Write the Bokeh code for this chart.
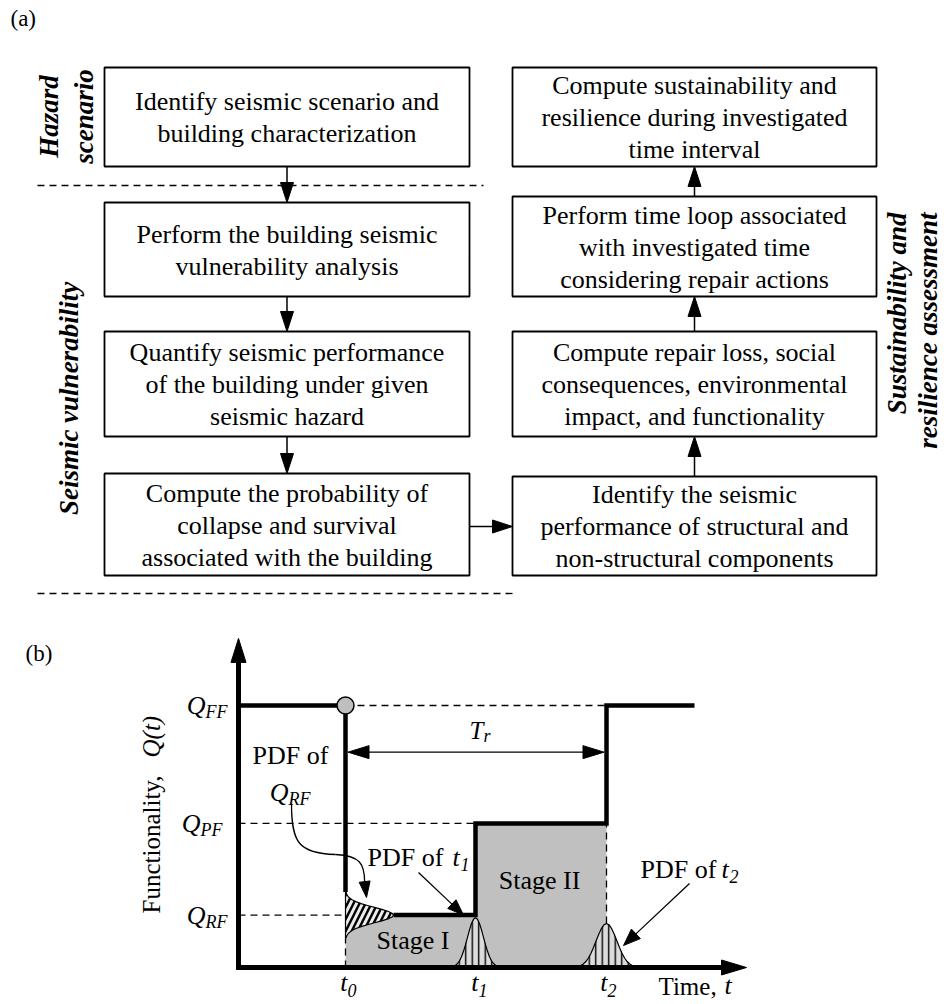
import math
from bokeh.plotting import figure
from bokeh.models import Range1d
from bokeh.layouts import column
from bokeh.embed import file_html
from bokeh.resources import INLINE
from bokeh.core.properties import value

FONT = "Liberation Serif"

# ---------------- (a) flowchart content ----------------
LEFT_STEPS = [
    ["Identify seismic scenario and", "building characterization"],
    ["Perform the building seismic", "vulnerability analysis"],
    ["Quantify seismic performance", "of the building under given", "seismic hazard"],
    ["Compute the probability of", "collapse and survival", "associated with the building"],
]
RIGHT_STEPS = [
    ["Compute sustainability and", "resilience during investigated", "time interval"],
    ["Perform time loop associated", "with investigated time", "considering repair actions"],
    ["Compute repair loss, social", "consequences, environmental", "impact, and functionality"],
    ["Identify the seismic", "performance of structural and", "non-structural components"],
]
LEFT_TOP = [67, 202, 331, 473]
LEFT_BOTTOM = [166, 296, 436, 575]
RIGHT_TOP = [67, 196, 331, 476]
RIGHT_BOTTOM = [166, 296, 436, 575]
LEFT_EDGES = [104, 469]
RIGHT_EDGES = [512, 876]
PHASE_HAZARD = ["Hazard", "scenario"]
PHASE_VULN = "Seismic vulnerability"
PHASE_SUST = ["Sustainability and", "resilience assessment"]
SEPARATOR_Y = [185, 593]
SEPARATOR_X_END = [483, 513]
LINK_Y = 526

# ---------------- (b) functionality curve ----------------
T0, T1, T2, T_END = 2.14, 4.74, 7.36, 9.12
Q_FF, Q_PF, Q_RF = 1.0, 0.55, 0.2
T_AXIS_MAX, Q_AXIS_MAX = 10.16, 1.256
T_R_LEVEL = 0.822
Q_NAMES = ["FF", "PF", "RF"]
Q_VALUES = [Q_FF, Q_PF, Q_RF]
T_NAMES = ["0", "1", "2"]
T_VALUES = [T0, T1, T2]
# relative bell ordinates (centre -> tail, 13 steps)
PDF_HALF = [1.0, 0.969, 0.883, 0.755, 0.607, 0.458, 0.325, 0.216, 0.135, 0.080, 0.044, 0.023, 0.011]
PDF_RF_AMP, PDF_RF_HALFWIDTH = 0.96, 0.088
PDF_T1_AMP, PDF_T1_HALFWIDTH = 0.19, 0.48
PDF_T2_AMP, PDF_T2_HALFWIDTH = 0.168, 0.62

W, H_TOTAL, H_SPLIT = 946, 1004, 618
HA, HB = H_SPLIT, H_TOTAL - H_SPLIT
SX, SY, OX, OY = 50.0, 262.0, 238.0, 967.0


def make_fig(h, xr, yr):
    p = figure(width=W, height=h, x_range=xr, y_range=yr, output_backend="svg",
               toolbar_location=None, min_border=0, x_axis_location=None,
               y_axis_location=None)
    p.grid.grid_line_color = None
    p.outline_line_color = None
    p.background_fill_color = "white"
    p.border_fill_color = "white"
    return p


def txt(p, conv, xs, ys, texts, size, style="normal", align="left", angle=0.0):
    """xs, ys: intended baseline anchor in page pixels."""
    k = 0.3 * size
    if angle == 0:
        ys = [v - k for v in ys]
    else:
        xs = [v - k for v in xs]
    X, Y = conv(xs, ys)
    p.text(x=X, y=Y, text=texts, text_font=value(FONT), text_font_size=f"{size}px",
           text_font_style=style, text_align=align, text_baseline="alphabetic",
           angle=angle, text_color="black")


def tri(tip, frm, L, hw):
    dx, dy = tip[0] - frm[0], tip[1] - frm[1]
    n = math.hypot(dx, dy)
    ux, uy = dx / n, dy / n
    bx, by = tip[0] - L * ux, tip[1] - L * uy
    px, py = -uy, ux
    return ([tip[0], bx + hw * px, bx - hw * px], [tip[1], by + hw * py, by - hw * py],
            (bx, by))


# ======================= panel (a) =======================
pa = make_fig(HA, Range1d(0, W), Range1d(0, HA))


def ay(py):
    return HA - py


def conv_a(xs, ys):
    return list(xs), [ay(v) for v in ys]


# boxes
pa.quad(left=[LEFT_EDGES[0]] * 4 + [RIGHT_EDGES[0]] * 4,
        right=[LEFT_EDGES[1]] * 4 + [RIGHT_EDGES[1]] * 4,
        top=[ay(v) for v in LEFT_TOP + RIGHT_TOP],
        bottom=[ay(v) for v in LEFT_BOTTOM + RIGHT_BOTTOM],
        fill_color="white", line_color="black", line_width=1.8)

bx_, by_, bt_ = [], [], []
for steps, tops, bots, edges in [(LEFT_STEPS, LEFT_TOP, LEFT_BOTTOM, LEFT_EDGES),
                                 (RIGHT_STEPS, RIGHT_TOP, RIGHT_BOTTOM, RIGHT_EDGES)]:
    cx = (edges[0] + edges[1]) / 2
    for lines, t, b in zip(steps, tops, bots):
        cy = (t + b) / 2
        n = len(lines)
        for i, s in enumerate(lines):
            bx_.append(cx)
            by_.append(cy + 32 * (i - (n - 1) / 2) + 8.5)
            bt_.append(s)
txt(pa, conv_a, bx_, by_, bt_, 26, align="center")

# separators
pa.multi_line(xs=[[37, SEPARATOR_X_END[0]], [37, SEPARATOR_X_END[1]]],
              ys=[[ay(SEPARATOR_Y[0])] * 2, [ay(SEPARATOR_Y[1])] * 2],
              line_color="black", line_width=1.3, line_dash="7 5")

# arrows
arrows = []
lx = (LEFT_EDGES[0] + LEFT_EDGES[1]) / 2
rx = (RIGHT_EDGES[0] + RIGHT_EDGES[1]) / 2
for i in range(3):
    arrows.append(((lx, LEFT_BOTTOM[i]), (lx, LEFT_TOP[i + 1])))
    arrows.append(((rx, RIGHT_TOP[i + 1]), (rx, RIGHT_BOTTOM[i])))
arrows.append(((LEFT_EDGES[1], LINK_Y), (RIGHT_EDGES[0], LINK_Y)))
sx_, sy_, hx_, hy_ = [], [], [], []
for frm, tip in arrows:
    xs, ys, base = tri(tip, frm, 20, 6.5)
    sx_.append([frm[0], base[0]])
    sy_.append([ay(frm[1]), ay(base[1])])
    hx_.append(xs)
    hy_.append([ay(v) for v in ys])
pa.multi_line(xs=sx_, ys=sy_, line_color="black", line_width=1.5)
pa.patches(xs=hx_, ys=hy_, fill_color="black", line_color="black", line_width=1)

# labels
txt(pa, conv_a, [10], [25], ["(a)"], 23)
txt(pa, conv_a, [57, 92], [116, 116], PHASE_HAZARD, 27, style="bold italic",
    align="center", angle=math.pi / 2)
txt(pa, conv_a, [77], [398], [PHASE_VULN], 27, style="bold italic", align="center",
    angle=math.pi / 2)
txt(pa, conv_a, [905, 936], [212, 212], PHASE_SUST, 27, style="bold italic",
    align="right", angle=math.pi / 2)

# ======================= panel (b) =======================
pb = make_fig(HB, Range1d(-OX / SX, (W - OX) / SX),
              Range1d(-(H_TOTAL - OY) / SY, (OY - H_SPLIT) / SY))


def pt(px):
    return (px - OX) / SX


def pq(py):
    return (OY - py) / SY


def tp(t):
    return OX + SX * t


def qp(q):
    return OY - SY * q


def conv_b(xs, ys):
    return [pt(v) for v in xs], [pq(v) for v in ys]


def bell(n_half):
    return [PDF_HALF[abs(k)] for k in range(-n_half, n_half + 1)], \
           [k / n_half for k in range(-n_half, n_half + 1)]


shape, frac = bell(len(PDF_HALF) - 1)

# stage areas
pb.quad(left=[T0, T1], right=[T1, T2], bottom=[0, 0], top=[Q_RF, Q_PF],
        fill_color="#c0c0c0", line_color=None)

# dashed guide lines
pb.multi_line(xs=[[T0, T2], [0, T1], [0, T0], [T0, T0], [T2, T2]],
              ys=[[Q_FF, Q_FF], [Q_PF, Q_PF], [Q_RF, Q_RF],
                  [0, Q_RF - PDF_RF_HALFWIDTH], [PDF_T2_AMP, Q_PF]],
              line_color="black", line_width=1.3, line_dash="7 5")

# PDF of Q_RF (sideways)
rf_x = [T0 + PDF_RF_AMP * s for s in shape]
rf_y = [Q_RF + PDF_RF_HALFWIDTH * f for f in frac]
pb.patch(x=[T0] + rf_x + [T0], y=[rf_y[0]] + rf_y + [rf_y[-1]],
         fill_color="#ececec", hatch_pattern="/", hatch_color="black",
         hatch_weight=2.4, hatch_scale=12, line_color="black", line_width=1.2)
# PDFs of t1, t2
for tc, amp, hwid in [(T1, PDF_T1_AMP, PDF_T1_HALFWIDTH), (T2, PDF_T2_AMP, PDF_T2_HALFWIDTH)]:
    xs = [tc + hwid * f for f in frac]
    ys = [amp * s for s in shape]
    pb.patch(x=xs, y=ys, fill_color="#dcdcdc", hatch_pattern="|", hatch_color="black",
             hatch_weight=1.4, hatch_scale=6.5, line_color="black", line_width=1.2)

# functionality path
pb.multi_line(xs=[[0, T0, T0], [T0 + PDF_RF_AMP, T1, T1, T2, T2, T_END]],
              ys=[[Q_FF, Q_FF, Q_RF + PDF_RF_HALFWIDTH], [Q_RF, Q_RF, Q_PF, Q_PF, Q_FF, Q_FF]],
              line_color="black", line_width=4.5, line_join="miter")

# axes
yh = tri((tp(0), qp(Q_AXIS_MAX)), (tp(0), qp(0)), 24, 7.5)
xh = tri((tp(T_AXIS_MAX), qp(0)), (tp(0), qp(0)), 25, 7.5)
pb.line(x=[0, 0, pt(xh[2][0])], y=[pq(yh[2][1]), 0, 0], line_color="black",
        line_width=5, line_join="miter")
pb.patches(xs=[[pt(v) for v in yh[0]], [pt(v) for v in xh[0]]],
           ys=[[pq(v) for v in yh[1]], [pq(v) for v in xh[1]]],
           fill_color="black", line_color="black")

# T_r double arrow
tr_y = qp(T_R_LEVEL)
h1 = tri((tp(T0) + 2.5, tr_y), (tp(T2), tr_y), 21, 6.5)
h2 = tri((tp(T2) - 2.5, tr_y), (tp(T0), tr_y), 21, 6.5)
ann_lines_x = [[pt(h1[2][0]), pt(h2[2][0])]]
ann_lines_y = [[T_R_LEVEL, T_R_LEVEL]]
heads = [h1, h2]

# annotation arrows (page px geometry)
a1 = tri((tp(T1) - 12, qp(Q_RF)), (418, 872), 16, 6)
a2 = tri((tp(T2) + 17, 945), (689, 883), 17, 6.5)
a3 = tri((366, 897), (364, 880), 16, 5.5)
for a, frm in [(a1, (418, 872)), (a2, (689, 883))]:
    ann_lines_x.append([pt(frm[0]), pt(a[2][0])])
    ann_lines_y.append([pq(frm[1]), pq(a[2][1])])
heads += [a1, a2, a3]
pb.multi_line(xs=ann_lines_x, ys=ann_lines_y, line_color="black", line_width=1.3)
pb.patches(xs=[[pt(v) for v in h[0]] for h in heads],
           ys=[[pq(v) for v in h[1]] for h in heads],
           fill_color="black", line_color="black", line_width=1)
# curved leader for PDF of Q_RF
pb.bezier(x0=[pt(291), pt(335)], y0=[pq(803), pq(854)],
          x1=[pt(335), pt(a3[2][0])], y1=[pq(854), pq(a3[2][1])],
          cx0=[pt(291), pt(360)], cy0=[pq(842), pq(855)],
          cx1=[pt(298), pt(364)], cy1=[pq(853), pq(864)],
          line_color="black", line_width=1.3)

# circle at onset
pb.scatter(x=[T0], y=[Q_FF], marker="circle", size=17, fill_color="#bfbfbf",
           line_color="black", line_width=1.5)

# ---- texts ----
txt(pb, conv_b, [25], [660], ["(b)"], 23)
# Q levels
q_anchor = [205, 200, 205]
txt(pb, conv_b, q_anchor, [qp(v) + 8 for v in Q_VALUES], ["Q"] * 3, 26,
    style="italic", align="right")
txt(pb, conv_b, q_anchor, [qp(v) + 12 for v in Q_VALUES], Q_NAMES, 18, style="italic")
# time ticks
t_off = [2, 3, 1]
txt(pb, conv_b, [tp(T) + o for T, o in zip(T_VALUES, t_off)], [990] * 3, ["t"] * 3, 26,
    style="italic", align="right")
txt(pb, conv_b, [tp(T) + o for T, o in zip(T_VALUES, t_off)], [995] * 3, T_NAMES, 18,
    style="italic")
txt(pb, conv_b, [658], [993], ["Time,"], 25)
txt(pb, conv_b, [724], [993], ["t"], 26, style="italic")
# y label
txt(pb, conv_b, [158], [913], ["Functionality,"], 25, angle=math.pi / 2)
txt(pb, conv_b, [158], [757], ["Q(t)"], 25, style="italic", angle=math.pi / 2)
# T_r
txt(pb, conv_b, [469], [737], ["T"], 25, style="italic")
txt(pb, conv_b, [483], [741], ["r"], 18, style="italic")
# stages
txt(pb, conv_b, [(tp(T0) + tp(T1)) / 2 + 2.5, (tp(T1) + tp(T2)) / 2 - 1.5], [948, 888],
    ["Stage I", "Stage II"], 26, align="center")
# PDF labels
txt(pb, conv_b, [290], [763], ["PDF of"], 26, align="center")
txt(pb, conv_b, [288], [800], ["Q"], 26, style="italic", align="right")
txt(pb, conv_b, [288], [804], ["RF"], 18, style="italic")
txt(pb, conv_b, [367, 640], [865, 877], ["PDF of", "PDF of"], 26)
txt(pb, conv_b, [452, 721], [865, 877], ["t", "t"], 26, style="italic")
txt(pb, conv_b, [460, 729], [869, 881], ["1", "2"], 18, style="italic")

layout = column(pa, pb, spacing=0)
open("out.html", "w").write(file_html(layout, INLINE))
